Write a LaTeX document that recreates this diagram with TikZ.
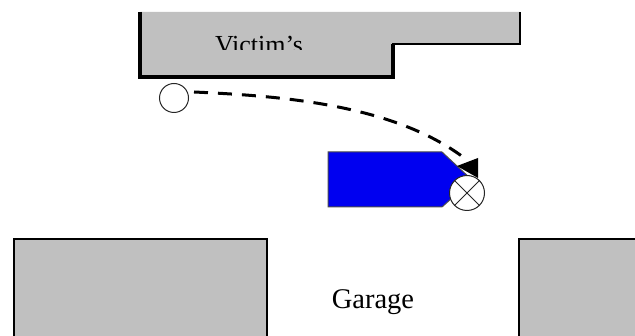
\documentclass[tikz,border=0pt]{standalone}
\usepackage{fontspec}
\setmainfont{Liberation Serif}
\usetikzlibrary{calc}
\definecolor{bldg}{RGB}{192,192,192}
\definecolor{carblue}{RGB}{0,0,240}
\tikzset{
  x=1pt,y=-1pt,
  building/.style={fill=bldg,draw=none},
  wall/.style={draw=black,line width=3.2pt,line cap=butt,line join=miter},
  thinwall/.style={draw=black,line width=2.5pt,line join=miter},
  person/.style={circle,draw=black!85,fill=white,line width=1pt,minimum size=29pt,inner sep=0pt},
  target/.style={circle,draw=black!85,fill=white,line width=1pt,minimum size=35pt,inner sep=0pt},
  victimlabel/.style={font=\fontsize{26}{30}\selectfont,inner sep=0pt},
  garagelabel/.style={font=\fontsize{28.5}{32}\selectfont,inner sep=0pt},
  path/.style={draw=black,line width=3pt,dash pattern=on 14pt off 10pt}
}
\begin{document}
\begin{tikzpicture}
\useasboundingbox (0,0) rectangle (635,336);
\fill[white] (0,0) rectangle (635,336);
% victim's house
\fill[building] (140,12) -- (520,12) -- (520,44) -- (393,44) -- (393,77) -- (140,77) -- cycle;
\begin{scope}
\clip (140,12) rectangle (393,49.5);
\node[victimlabel,anchor=base] (victim) at (259,54) {Victim’s};
\end{scope}
\draw[wall] (140,12) -- (140,77) -- (393,77) -- (393,44);
\draw[thinwall] (392,44) -- (520,44) -- (520,12);
% garage blocks
\fill[building] (14,239) rectangle (267,336);
\fill[building] (519,239) rectangle (635,336);
\draw[thinwall] (14,336) -- (14,239) -- (267,239) -- (267,336);
\draw[thinwall] (635,239) -- (519,239) -- (519,336);
\node[garagelabel,anchor=base] (garage) at (373,309) {Garage};
% car
\draw[fill=carblue,draw=black!70,line width=1pt] (328,152) -- (442,152) -- (472,180) -- (442,207) -- (328,207) -- cycle;
% target and person
\node[target] (tgt) at (467,193) {};
\draw[black!85,line width=0.9pt] (tgt.north west) -- (tgt.south east) (tgt.north east) -- (tgt.south west);
\node[person] (prs) at (174,98) {};
% arrow
\draw[path] (prs.east)++(5,-6) .. controls (280,96) and (395,104) .. (467,160);
\fill[black] (478,178) -- (478,158) -- (457,166) -- cycle;
\end{tikzpicture}
\end{document}
